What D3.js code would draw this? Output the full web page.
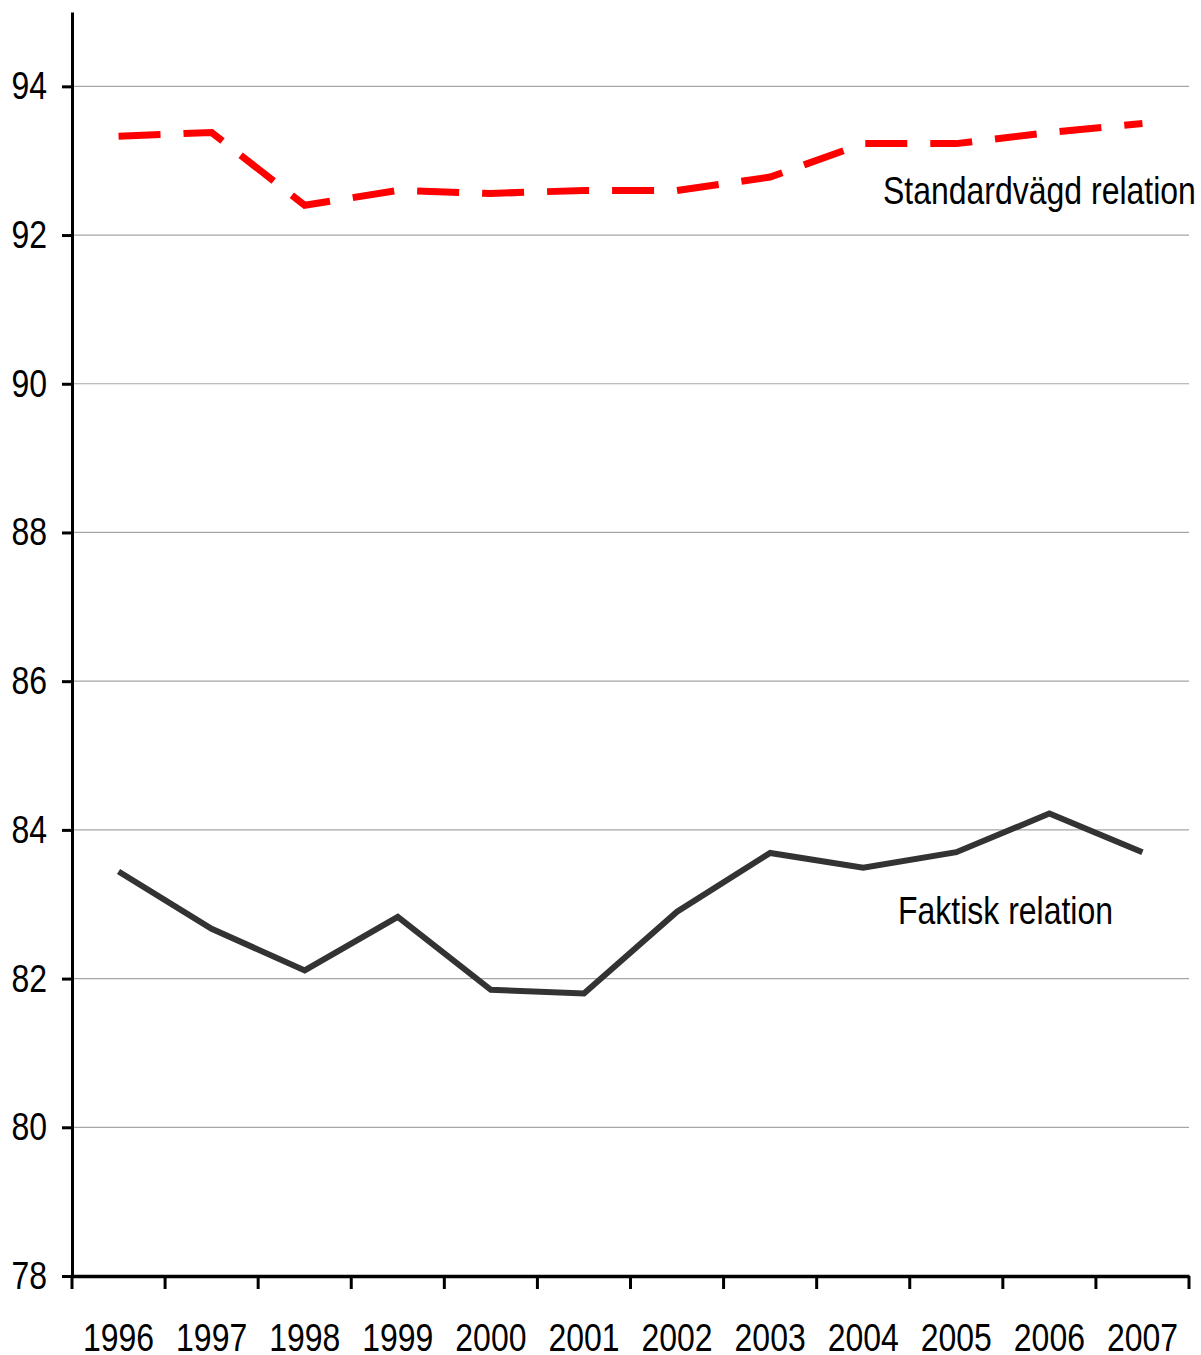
<!DOCTYPE html>
<html>
<head>
<meta charset="utf-8">
<script src="https://cdn.jsdelivr.net/npm/d3@7"></script>
<style>
    body { margin: 0; background: #fff; }
    text { font-family: "Liberation Sans", Arial, sans-serif; fill: #000; }
</style>
</head>
<body>
<div id="chart"></div>
<script>
const years = ['1996', '1997', '1998', '1999', '2000', '2001', '2002', '2003', '2004', '2005', '2006', '2007'];
const standardvagd = [93.33, 93.38, 92.40, 92.60, 92.56, 92.60, 92.60, 92.78, 93.23, 93.23, 93.38, 93.50];
const faktisk = [83.44, 82.67, 82.11, 82.83, 81.85, 81.80, 82.90, 83.69, 83.49, 83.70, 84.22, 83.70];
const yTicks = [78, 80, 82, 84, 86, 88, 90, 92, 94];

const dimensions = { width: 1201, height: 1355 };
const margin = { top: 12, right: 12, bottom: 79, left: 72 };

const graphWidth = dimensions.width - margin.left - margin.right;
const graphHeight = dimensions.height - margin.top - margin.bottom;

// no narrow font installed, so squeeze Liberation Sans like Arial Narrow
const squeeze = 0.82;
const fontSize = '39px';

const svg = d3.select('#chart')
    .append('svg')
    .attr('width', dimensions.width)
    .attr('height', dimensions.height);

const graph = svg.append('g')
    .attr('transform', `translate(${margin.left}, ${margin.top})`);

// scales
const x = d3.scaleBand().domain(years).range([0, graphWidth]).padding(0);
const y = d3.scaleLinear().domain([78, 95]).range([graphHeight, 0]);
const cx = d => x(d) + x.bandwidth() / 2;

// gridlines
graph.append('g')
    .selectAll('line')
    .data(yTicks.filter(t => t > 78))
    .enter()
    .append('line')
        .attr('x1', 0)
        .attr('x2', graphWidth)
        .attr('y1', d => y(d))
        .attr('y2', d => y(d))
        .attr('stroke', '#a6a6a6')
        .attr('stroke-width', 1.2);

// y axis
const yAxis = d3.axisLeft(y)
    .tickValues(yTicks)
    .tickSize(10)
    .tickSizeOuter(0)
    .tickPadding(15);

const yAxisGroup = graph.append('g').call(yAxis);
yAxisGroup.select('.domain').attr('stroke', '#000').attr('stroke-width', 3);
yAxisGroup.selectAll('.tick line').attr('stroke', '#000').attr('stroke-width', 3);
yAxisGroup.selectAll('text')
    .style('font-size', fontSize)
    .attr('fill', '#000')
    .attr('x', -25 / squeeze)
    .attr('transform', `scale(${squeeze},1)`);

// x axis (labels centred in bands, ticks on band edges)
const xAxis = d3.axisBottom(x)
    .tickSize(0)
    .tickSizeOuter(0)
    .tickPadding(47);

const xAxisGroup = graph.append('g')
    .attr('transform', `translate(0, ${graphHeight})`)
    .call(xAxis);
xAxisGroup.select('.domain').attr('stroke', '#000').attr('stroke-width', 3.5);
xAxisGroup.selectAll('text')
    .style('font-size', fontSize)
    .attr('fill', '#000')
    .attr('transform', `scale(${squeeze},1)`);

xAxisGroup.selectAll('.edge')
    .data(years.concat(['end']))
    .enter()
    .append('line')
        .attr('class', 'edge')
        .attr('x1', d => d === 'end' ? graphWidth : x(d))
        .attr('x2', d => d === 'end' ? graphWidth : x(d))
        .attr('y1', 0)
        .attr('y2', 13)
        .attr('stroke', '#000')
        .attr('stroke-width', 3);

// lines
const line = values => d3.line()
    .x((d, i) => cx(years[i]))
    .y(d => y(d))(values);

graph.append('path')
    .attr('d', line(faktisk))
    .attr('fill', 'none')
    .attr('stroke', '#333333')
    .attr('stroke-width', 6)
    .attr('stroke-linejoin', 'miter');

graph.append('path')
    .attr('d', line(standardvagd))
    .attr('fill', 'none')
    .attr('stroke', '#ff0000')
    .attr('stroke-width', 7)
    .attr('stroke-dasharray', '42,23')
    .attr('stroke-linejoin', 'miter');

// series labels
svg.append('text')
    .attr('transform', `translate(883, 204) scale(${squeeze},1)`)
    .style('font-size', fontSize)
    .text('Standardvägd relation');

svg.append('text')
    .attr('transform', `translate(898, 924) scale(${squeeze},1)`)
    .style('font-size', fontSize)
    .text('Faktisk relation');
</script>
</body>
</html>
